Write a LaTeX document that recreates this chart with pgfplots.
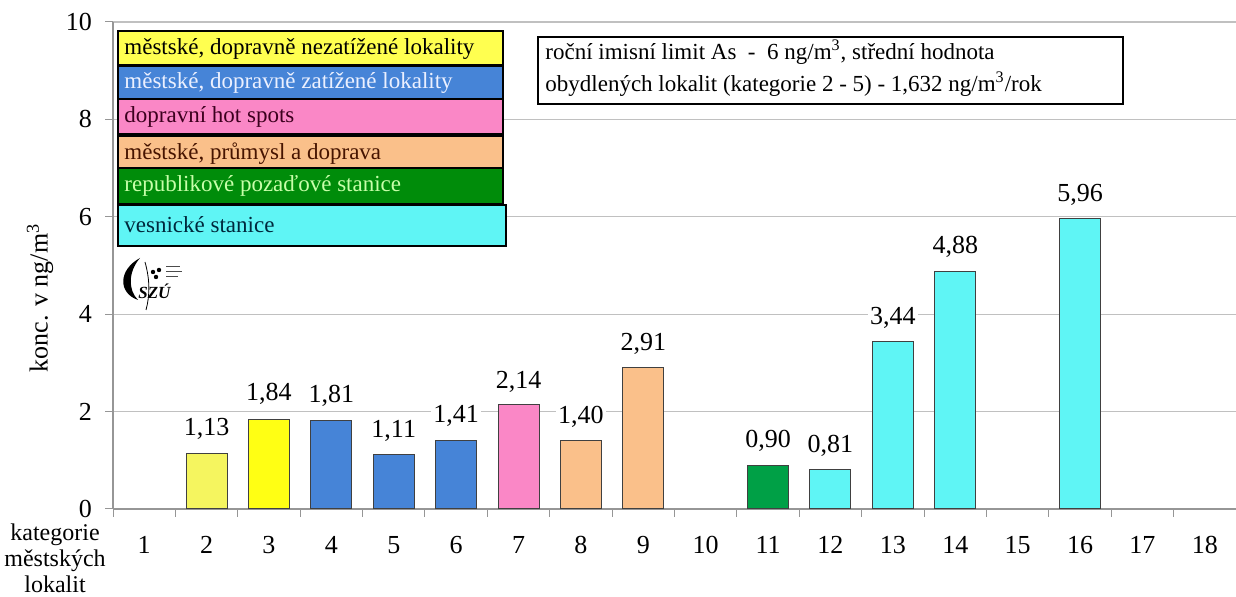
\documentclass[border=0pt]{standalone}
\usepackage{fontspec}
\setmainfont{Liberation Serif}
\usepackage{pgfplots}
\usepackage{pgfplotstable}
\pgfplotsset{compat=1.18}
\definecolor{paleyellow}{RGB}{245,245,95}
\definecolor{yel}{RGB}{255,255,20}
\definecolor{legyel}{RGB}{255,255,80}
\definecolor{blu}{RGB}{70,132,215}
\definecolor{pnk}{RGB}{250,135,198}
\definecolor{org}{RGB}{250,192,138}
\definecolor{grnbar}{RGB}{0,160,70}
\definecolor{grnleg}{RGB}{0,140,10}
\definecolor{cya}{RGB}{95,245,245}
\definecolor{axgray}{RGB}{150,150,150}
\pgfplotstableread{
x y label
2 1.64 1,13
3 2.36 1,84
4 2.32 1,81
5 1.60 1,11
6 1.91 1,41
7 2.62 2,14
8 1.89 1,40
9 3.38 2,91
11 1.39 0,90
12 1.29 0,81
13 3.93 3,44
14 5.39 4,88
16 6.45 5,96
}\labels
\begin{document}
\begin{tikzpicture}
\begin{axis}[
  at={(56.5pt,44pt)}, anchor=south west,
  scale only axis, width=561.5pt, height=243.5pt,
  xmin=0.5, xmax=18.5, ymin=0, ymax=10,
  axis lines*=left,
  axis line style={axgray, line width=0.6pt},
  ytick={0,2,...,10},
  ymajorgrids, grid style={axgray!60, line width=0.6pt},
  xtick={1,...,18},
  minor xtick={0.5,1.5,...,18.5},
  major x tick style={draw=none},
  minor x tick style={axgray, line width=0.5pt},
  y tick style={axgray, line width=0.5pt},
  tick align=outside,
  major tick length=4pt, minor tick length=4pt,
  /pgf/number format/assume math mode=true,
  tick label style={font=\fontsize{13}{15}\selectfont},
  xticklabel style={yshift=-6pt},
  yticklabel style={xshift=-3pt},
  clip=false,
]
\addplot[ybar, bar width=20.5pt, bar shift=0pt, fill=paleyellow, draw=black!75, line width=0.5pt] coordinates {(2,1.13)};
\addplot[ybar, bar width=20.5pt, bar shift=0pt, fill=yel, draw=black!75, line width=0.5pt] coordinates {(3,1.84)};
\addplot[ybar, bar width=20.5pt, bar shift=0pt, fill=blu, draw=black!75, line width=0.5pt] coordinates {(4,1.81) (5,1.11) (6,1.41)};
\addplot[ybar, bar width=20.5pt, bar shift=0pt, fill=pnk, draw=black!75, line width=0.5pt] coordinates {(7,2.14)};
\addplot[ybar, bar width=20.5pt, bar shift=0pt, fill=org, draw=black!75, line width=0.5pt] coordinates {(8,1.40) (9,2.91)};
\addplot[ybar, bar width=20.5pt, bar shift=0pt, fill=grnbar, draw=black!75, line width=0.5pt] coordinates {(11,0.90)};
\addplot[ybar, bar width=20.5pt, bar shift=0pt, fill=cya, draw=black!75, line width=0.5pt] coordinates {(12,0.81) (13,3.44) (14,4.88) (16,5.96)};
\addplot[draw=none, mark=none, nodes near coords, point meta=explicit symbolic,
  every node near coord/.append style={anchor=center, fill=white, inner sep=1pt, font=\fontsize{13}{15}\selectfont}]
  table[x=x, y=y, meta=label] {\labels};
\end{axis}
\begin{scope}[x=0.5pt, y=-0.5pt, shift={(0,298.5pt)}]
  % legend boxes
  \tikzset{lb/.style={draw=black, line width=0.8pt}}
  \def\lf{\fontsize{11.5}{13}\selectfont}
  \filldraw[lb, fill=legyel] (118,31) rectangle (503,65);
  \node[anchor=west, inner sep=0pt, font=\lf] at (124,49) {městské, dopravně nezatížené lokality};
  \filldraw[lb, fill=blu] (118,66) rectangle (503,99);
  \node[anchor=west, inner sep=0pt, font=\lf, text={rgb,255:red,235;green,240;blue,255}] at (124,83) {městské, dopravně zatížené lokality};
  \filldraw[lb, fill=pnk] (118,99) rectangle (503,134);
  \node[anchor=west, inner sep=0pt, font=\lf, text={rgb,255:red,60;green,0;blue,30}] at (124,117) {dopravní hot spots};
  \filldraw[lb, fill=org] (118,136) rectangle (503,168);
  \node[anchor=west, inner sep=0pt, font=\lf, text={rgb,255:red,70;green,20;blue,0}] at (124,154) {městské, průmysl a doprava};
  \filldraw[lb, fill=grnleg] (118,168) rectangle (503,204);
  \node[anchor=west, inner sep=0pt, font=\lf, text={rgb,255:red,200;green,255;blue,170}] at (124,186) {republikové pozaďové stanice};
  \filldraw[lb, fill=cya] (118,205) rectangle (506,246);
  \node[anchor=west, inner sep=0pt, font=\lf, text={rgb,255:red,0;green,40;blue,60}] at (124,225) {vesnické stanice};
  % note box
  \filldraw[draw=black, line width=1pt, fill=white] (538,37) rectangle (1123,104);
  \node[anchor=west, inner sep=0pt, font=\lf] at (545,52) {roční imisní limit As~~-~~6~ng/m\textsuperscript{3}, střední hodnota};
  \node[anchor=west, inner sep=0pt, font=\lf] at (545,84) {obydlených lokalit (kategorie 2 - 5) - 1,632~ng/m\textsuperscript{3}/rok};
  % logo
  \fill[black] (140,258) .. controls (118,270) and (118,293) .. (138,300) .. controls (128,290) and (128,272) .. (140,258);
  \draw[black, line width=0.4pt] (145,262) .. controls (150,280) and (150,295) .. (146,310);
  \fill[black] (153,272) circle (2.2) (159,270) circle (2.2) (156,277) circle (2.2);
  \draw[black!70, line width=0.3pt] (166,266) -- (180,266) (166,271) -- (182,271) (166,276) -- (178,276);
  \node[anchor=west, inner sep=0pt, font=\bfseries\itshape\fontsize{8.5}{9}\selectfont] at (138,291) {SZÚ};
  % y label
  \node[rotate=90, inner sep=0pt, font=\fontsize{13}{15}\selectfont] at (40,298) {konc. v ng/m\textsuperscript{3}};
  % category label
  \node[align=center, inner sep=0pt, font=\fontsize{12}{13}\selectfont] at (55,558) {kategorie\\městských\\lokalit};
\end{scope}
\pgfresetboundingbox
\path (0,0) rectangle (618pt,298.5pt);
\end{tikzpicture}
\end{document}
